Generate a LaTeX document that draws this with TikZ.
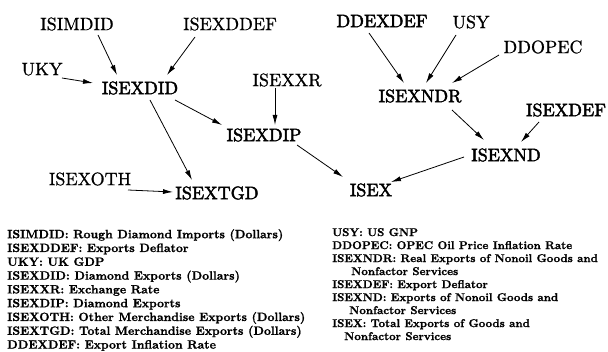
\documentclass[tikz,border=0pt]{standalone}
\usepackage{fontspec}
\usetikzlibrary{calc,arrows.meta}
\newfontfamily\lightfont{lmroman10-regular.otf}[FakeBold=0.8]
\newfontfamily\heavyfont{lmroman10-regular.otf}[FakeBold=2.4]
\newfontfamily\legfont{lmroman10-bold.otf}[FakeBold=1.2]
\begin{document}
\begin{tikzpicture}[x=1pt,y=-1pt,
  lab/.style={inner sep=0pt,text height=12.3pt,text depth=0pt,anchor=center,font=\fontsize{18}{18}\selectfont\lightfont},
  hlab/.style={lab,font=\fontsize{18}{18}\selectfont\heavyfont},
  arr/.style={line width=0.8pt,-{Latex[length=10pt,width=5pt]}},
  legend/.style={inner sep=0pt,anchor=north west,align=left,font=\fontsize{12}{13.8}\selectfont\legfont}]
\useasboundingbox (0,0) rectangle (608,352);
% left graph
\node[lab]  (ISIMDID)  at (77,24)  {ISIMDID};
\node[lab]  (ISEXDDEF) at (230,24) {ISEXDDEF};
\node[lab]  (UKY)      at (42,69)  {UKY};
\node[hlab] (ISEXDID)  at (140,88) {ISEXDID};
\node[lab]  (ISEXXR)   at (287,80) {ISEXXR};
\node[hlab] (ISEXDIP)  at (264,135) {ISEXDIP};
\node[lab]  (ISEXOTH)  at (90,179) {ISEXOTH};
\node[hlab] (ISEXTGD)  at (217,193) {ISEXTGD};
\node[hlab] (ISEX)     at (371,190) {ISEX};
% right graph
\node[hlab] (DDEXDEF)  at (382,21) {DDEXDEF};
\node[lab]  (USY)      at (471,22) {USY};
\node[lab]  (DDOPEC)   at (543,47) {DDOPEC};
\node[hlab] (ISEXNDR)  at (420,96) {ISEXNDR};
\node[hlab] (ISEXDEF)  at (566,110) {ISEXDEF};
\node[hlab] (ISEXND)   at (506,155) {ISEXND};
% connectors
\draw[arr] ($(ISIMDID)+(21,11)$) -- ($(ISEXDID)+(-23,-13)$);
\draw[arr] ($(ISEXDDEF)+(-35,13)$) -- ($(ISEXDID)+(27,-13)$);
\draw[arr] ($(UKY)+(20,9)$) -- ($(ISEXDID)+(-47,-5)$);
\draw[arr] ($(ISEXDID)+(35,12)$) -- ($(ISEXDIP)+(-42,-10)$);
\draw[arr] ($(ISEXDID)+(10,12)$) -- ($(ISEXTGD)+(-25,-13)$);
\draw[arr] ($(ISEXOTH)+(38,11)$) -- ($(ISEXTGD)+(-44,-1)$);
\draw[arr] ($(ISEXXR)+(-12,8)$) -- ($(ISEXDIP)+(11,-10)$);
\draw[arr] ($(ISEXDIP)+(33,10)$) -- ($(ISEX)+(-28,-13)$);
\draw[arr] ($(DDEXDEF)+(-13,12)$) -- ($(ISEXNDR)+(-16,-13)$);
\draw[arr] ($(USY)+(-15,13)$) -- ($(ISEXNDR)+(6,-13)$);
\draw[arr] ($(DDOPEC)+(-44,8)$) -- ($(ISEXNDR)+(32,-13)$);
\draw[arr] ($(ISEXNDR)+(32,14)$) -- ($(ISEXND)+(-22,-15)$);
\draw[arr] ($(ISEXDEF)+(-27,12)$) -- ($(ISEXND)+(15,-13)$);
\draw[arr] ($(ISEXND)+(-42,2)$) -- ($(ISEX)+(20,-8)$);
% legends
\node[legend] (legL) at (7,229) {ISIMDID: Rough Diamond Imports (Dollars)\\
ISEXDDEF: Exports Deflator\\
UKY: UK GDP\\
ISEXDID: Diamond Exports (Dollars)\\
ISEXXR: Exchange Rate\\
ISEXDIP: Diamond Exports\\
ISEXOTH: Other Merchandise Exports (Dollars)\\
ISEXTGD: Total Merchandise Exports (Dollars)\\
DDEXDEF: Export Inflation Rate};
\node[legend,font=\fontsize{11.3}{13}\selectfont\legfont] (legR) at (332,228) {USY: US GNP\\
DDOPEC: OPEC Oil Price Inflation Rate\\
ISEXNDR: Real Exports of Nonoil Goods and\\
\hspace*{19pt}Nonfactor Services\\
ISEXDEF: Export Deflator\\
ISEXND: Exports of Nonoil Goods and\\
\hspace*{17pt}Nonfactor Services\\
ISEX: Total Exports of Goods and\\
\hspace*{12pt}Nonfactor Services};
\end{tikzpicture}
\end{document}
